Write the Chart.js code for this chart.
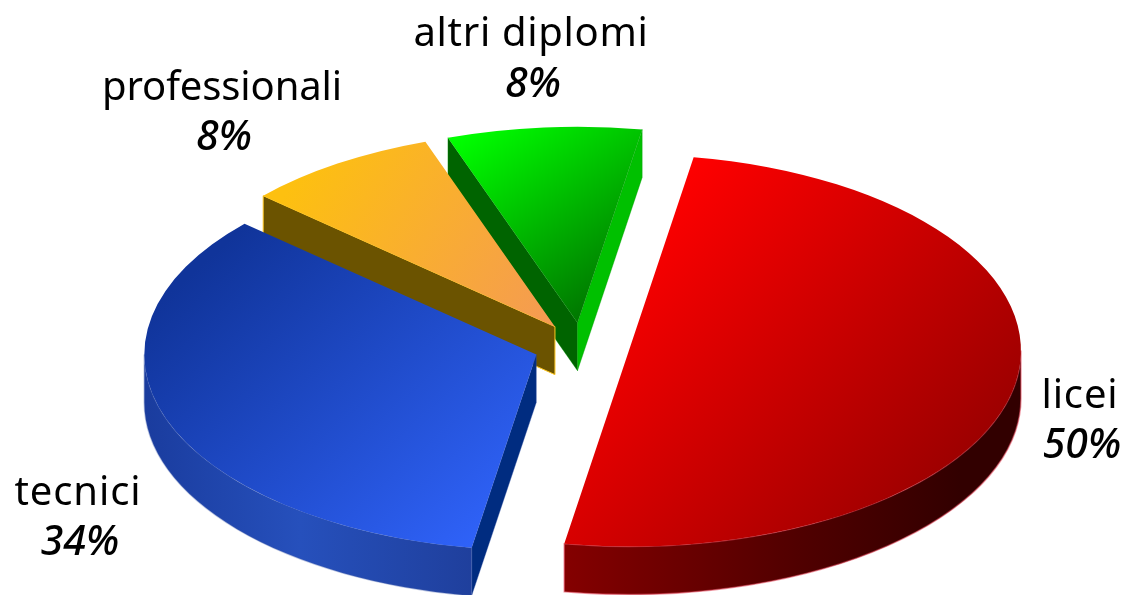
<!DOCTYPE html>
<html><head><meta charset="utf-8">
<style>html,body{margin:0;padding:0;background:#fff}canvas{display:block}</style>
<script src="https://cdn.jsdelivr.net/npm/chart.js@4"></script>
</head><body><canvas id="c" width="1126" height="595"></canvas>
<script>
const categories = ['licei','tecnici','professionali','altri diplomi'];
const shares = [50,34,8,8];

// pie projection and styling
const TILT = 0.5, RADIUS = 392, DEPTH = 48, EXPLODE = 48, ROTATION = 9.5;
const CENTER = {x:581.6, y:346.6};
const topStops = [
  {from:[690,160], to:[1010,450], c0:'#ff0000', c1:'#960000'},
  {from:[240,230], to:[500,520], c0:'#10349a', c1:'#2f62f8'},
  {from:[300,170], to:[540,320], c0:'#fdc010', c1:'#f59c50'},
  {from:[470,130], to:[590,310], c0:'#00ff00', c1:'#007800'}
];
const startWall = [null,'#002c80','#6b5300','#006400'];
const endWall = [null,null,null,'#00c000'];
const edgeColor = ['rgba(225,70,90,.55)','rgba(60,90,170,.35)','#ffc820','rgba(0,150,0,.35)'];
const rimStops = [
  [[565,'#840000'],[800,'#500000'],[960,'#320000']],
  [[145,'#1a3c9e'],[300,'#2650bc'],[475,'#1f3f9c']],
  null, null
];
const labelPos = [[1080,408,458],[78,505,555],[222,100,150],[531,46,97]];
const labelWidth = [77,127,240,235];
const NAME_FONT = '40px "Noto Sans"';
const PCT_FONT = 'italic 500 41px "Noto Sans"';

const total = shares.reduce((a,b)=>a+b,0);
function midAngle(i){
  let s = ROTATION; for(let j=0;j<i;j++) s += shares[j]/total*360;
  return (s + shares[i]/total*180 - 90)*Math.PI/180;
}
function topFill(ctx){
  const chart = ctx.chart, a = chart.chartArea, i = ctx.dataIndex;
  if(!a || i===undefined) return topStops[0].c0;
  const ax=(a.left+a.right)/2, ay=(a.top+a.bottom)/2, m=midAngle(i), st=topStops[i];
  const ox=Math.cos(m)*EXPLODE, oy=Math.sin(m)*EXPLODE;
  const u0x=ax+st.from[0]-CENTER.x-ox, u0y=ay+(st.from[1]-CENTER.y)/TILT-oy;
  const vx=st.to[0]-st.from[0], vy=st.to[1]-st.from[1];
  const wx=vx, wy=TILT*vy, s=(vx*vx+vy*vy)/(wx*wx+wy*wy);
  const g=chart.ctx.createLinearGradient(u0x,u0y,u0x+s*wx,u0y+s*wy);
  g.addColorStop(0,st.c0); g.addColorStop(1,st.c1);
  return g;
}

const pie3d = {
  id:'pie3d',
  // the exploded tilted pie is painted here, so the default flat pass is cancelled
  beforeDatasetDraw(chart){
    const ctx=chart.ctx, arcs=chart.getDatasetMeta(0).data;
    const sx=a=>CENTER.x+Math.cos((a.startAngle+a.endAngle)/2)*EXPLODE;
    const sy=a=>CENTER.y+Math.sin((a.startAngle+a.endAngle)/2)*EXPLODE*TILT;
    ctx.save();
    [3,2,1,0].forEach(i=>{
      const a=arcs[i], px=sx(a), py=sy(a), r=a.outerRadius;
      const wall=(ang,color)=>{
        if(!color) return;
        const rx=px+Math.cos(ang)*r, ry=py+Math.sin(ang)*r*TILT;
        ctx.beginPath(); ctx.moveTo(px,py); ctx.lineTo(rx,ry); ctx.lineTo(rx,ry+DEPTH); ctx.lineTo(px,py+DEPTH); ctx.closePath();
        ctx.fillStyle=color; ctx.fill();
        ctx.strokeStyle=edgeColor[i]; ctx.lineWidth=1; ctx.stroke();
      };
      wall(a.startAngle,startWall[i]);
      wall(a.endAngle,endWall[i]);
      if(rimStops[i]){
        const a0=Math.max(a.startAngle,0), a1=Math.min(a.endAngle,Math.PI);
        const st=rimStops[i], x0=st[0][0], w=st[st.length-1][0]-x0;
        const g=ctx.createLinearGradient(x0,0,x0+w,0);
        st.forEach(s=>g.addColorStop((s[0]-x0)/w,s[1]));
        ctx.beginPath();
        ctx.ellipse(px,py,r,r*TILT,0,a0,a1);
        ctx.ellipse(px,py+DEPTH,r,r*TILT,0,a1,a0,true);
        ctx.closePath();
        ctx.fillStyle=g; ctx.fill();
        ctx.strokeStyle=edgeColor[i]; ctx.lineWidth=1.5; ctx.stroke();
      }
    });
    arcs.forEach(a=>{
      const m=(a.startAngle+a.endAngle)/2;
      ctx.save();
      ctx.translate(CENTER.x,CENTER.y); ctx.scale(1,TILT); ctx.translate(-a.x,-a.y);
      ctx.translate(Math.cos(m)*EXPLODE,Math.sin(m)*EXPLODE);
      a.draw(ctx);
      ctx.restore();
    });
    ctx.restore();
    return false;
  },
  afterDatasetsDraw(chart){
    const ctx=chart.ctx;
    ctx.save();
    ctx.fillStyle='#000'; ctx.textAlign='center'; ctx.textBaseline='alphabetic';
    categories.forEach((n,i)=>{
      const p=labelPos[i];
      ctx.font=NAME_FONT; ctx.letterSpacing='0px';
      const extra=(labelWidth[i]-ctx.measureText(n).width)/n.length;
      ctx.letterSpacing=extra+'px';
      ctx.fillText(n,p[0],p[1]);
      ctx.letterSpacing='0px';
      ctx.font=PCT_FONT; ctx.fillText(shares[i]+'%',p[0]+2,p[2]);
    });
    ctx.restore();
  }
};

new Chart(document.getElementById('c'),{
  type:'pie',
  data:{labels:categories,datasets:[{data:shares,backgroundColor:topFill,borderWidth:0,clip:false}]},
  options:{
    responsive:false,animation:false,events:[],
    radius:RADIUS,rotation:ROTATION,
    layout:{padding:0},
    plugins:{legend:{display:false},tooltip:{enabled:false},title:{display:false}}
  },
  plugins:[pie3d]
});
</script></body></html>
